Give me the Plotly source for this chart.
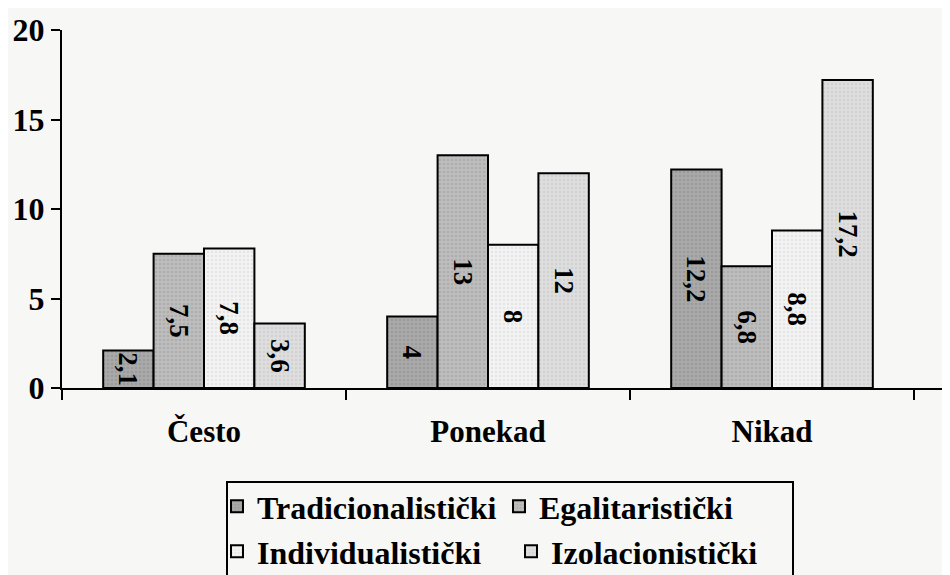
import plotly.graph_objects as go

categories = ["Često", "Ponekad", "Nikad"]
series_names = ["Tradicionalistički", "Egalitaristički", "Individualistički", "Izolacionistički"]
tradicionalisticki = [2.1, 4, 12.2]
egalitaristicki = [7.5, 13, 6.8]
individualisticki = [7.8, 8, 8.8]
izolacionisticki = [3.6, 12, 17.2]
y_ticks = [0, 5, 10, 15, 20]

series_values = [tradicionalisticki, egalitaristicki, individualisticki, izolacionisticki]
fills = ["#a9a9a9", "#bdbdbd", "#f3f3f3", "#dedede"]
pattern_fg = ["#8a8a8a", "#9c9c9c", "#d4d4d4", "#c4c4c4"]
legend_ids = ["legend", "legend", "legend2", "legend2"]

serif = "Liberation Serif"
# figure-pixel geometry (page has an 8px body margin)
L, T, B = 54, 22, 380
H = B - T
W = 950 - L
CAT_PX = 284
fig = go.Figure()
for name, vals, col, pfg, lg in zip(series_names, series_values, fills, pattern_fg, legend_ids):
    fig.add_trace(go.Bar(
        x=categories, y=vals, name=name,
        marker=dict(color=col, line=dict(color="black", width=2),
                    pattern=dict(shape=".", fgcolor=pfg, bgcolor=col, size=4, solidity=0.3)),
        texttemplate="%{y}", textposition="inside", insidetextanchor="middle",
        textangle=90, constraintext="none",
        textfont=dict(family=serif, size=27, color="black", weight="bold"),
        legend=lg,
    ))

leg_font = dict(family=serif, size=32, weight="bold")
fig.update_layout(
    width=950, height=575,
    margin=dict(l=L, r=0, t=T, b=575 - B, autoexpand=False),
    paper_bgcolor="#f7f7f5", plot_bgcolor="rgba(0,0,0,0)",
    barmode="group", bargap=0.29, bargroupgap=0,
    separators=",.",
    font=dict(family=serif, color="black"),
    legend=dict(orientation="h", x=(209 - L) / W, xanchor="left",
                y=(B - 471) / H, yanchor="top", entrywidth=237, itemwidth=30,
                font=leg_font, bgcolor="rgba(0,0,0,0)", itemclick=False),
    legend2=dict(orientation="h", x=(209 - L) / W, xanchor="left",
                 y=(B - 516) / H, yanchor="top", entrywidth=249, itemwidth=30,
                 font=leg_font, bgcolor="rgba(0,0,0,0)", itemclick=False),
    shapes=[dict(type="rect", xref="paper", yref="paper",
                 x0=(219 - L) / W, x1=(785 - L) / W,
                 y0=(B - 474) / H, y1=(B - 600) / H,
                 line=dict(color="black", width=2), fillcolor="rgba(0,0,0,0)", layer="below")],
    showlegend=True,
)
fig.update_xaxes(
    type="category", range=[-0.5, -0.5 + W / CAT_PX], automargin=False,
    showline=True, linecolor="black", linewidth=2,
    ticks="outside", tickson="boundaries", ticklen=10, tickwidth=2, tickcolor="black",
    ticklabelstandoff=15,
    tickfont=dict(family=serif, size=31, weight="bold"),
    showgrid=False, zeroline=False,
)
fig.update_yaxes(
    range=[0, 20], tickvals=y_ticks, automargin=False,
    showline=True, linecolor="black", linewidth=2,
    ticks="outside", ticklen=9, tickwidth=2, tickcolor="black",
    tickfont=dict(family=serif, size=32, weight="bold"),
    showgrid=False, zeroline=False,
)
fig.write_html("out.html")
